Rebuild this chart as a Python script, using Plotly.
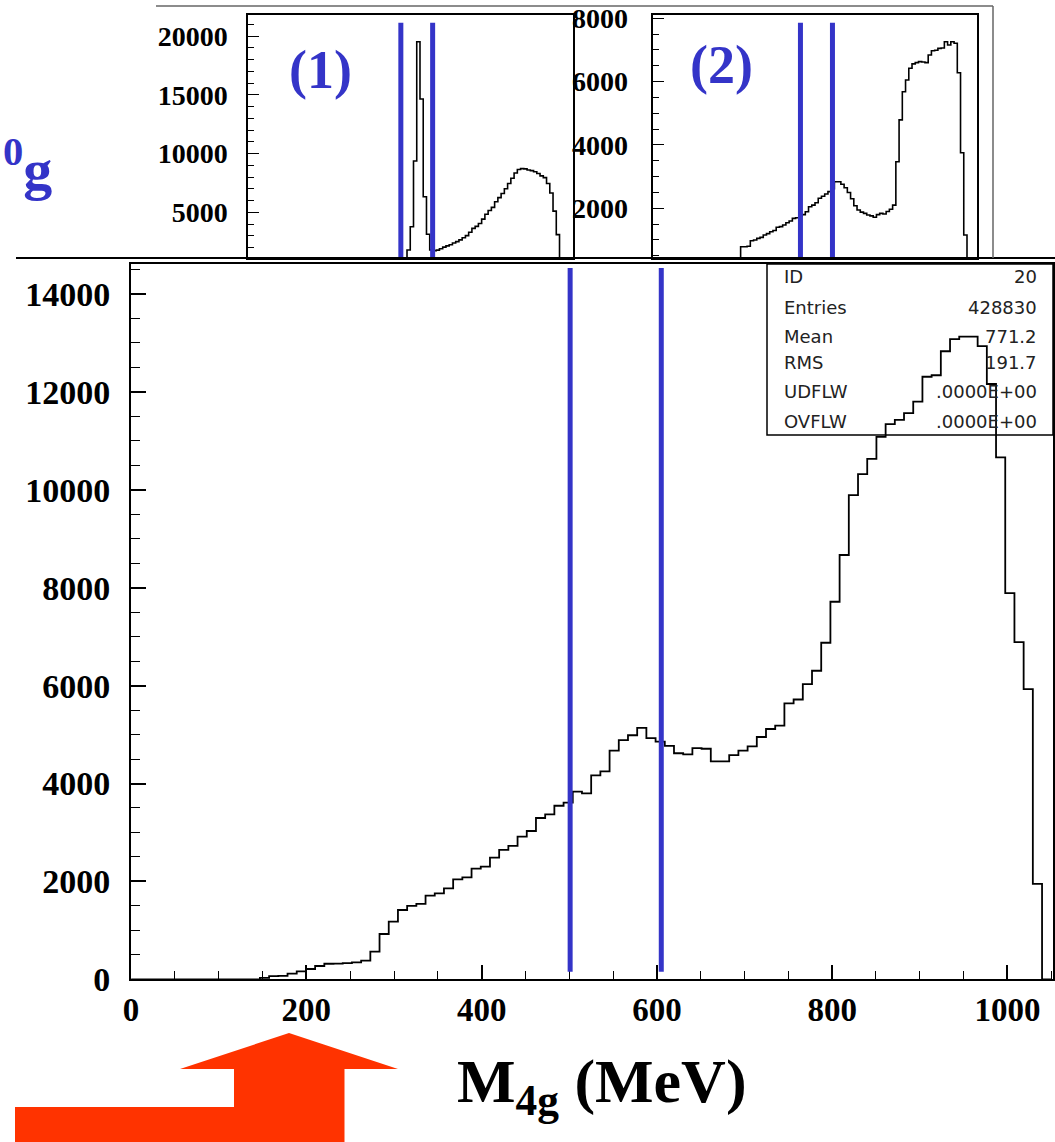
import plotly.graph_objects as go

W, H = 1055, 1142

# ---------------- data ----------------
main_bin_width = 10.5  # MeV per bin, 100 bins
main_counts = [0] * 14 + [
    30, 65, 70, 115, 163, 210, 272, 318, 322, 330,
    347, 381, 565, 925, 1177, 1416, 1498, 1539, 1709, 1756,
    1858, 2042, 2084, 2260, 2301, 2485, 2642, 2724, 2914, 3030,
    3295, 3370, 3545, 3608, 3833, 3799, 4167, 4249, 4670, 4885,
    4986, 5136, 4925, 4857, 4768, 4618, 4593, 4724, 4710, 4450,
    4450, 4578, 4670, 4760, 4950, 5113, 5184, 5638, 5716, 6029,
    6303, 6875, 7713, 8668, 9890, 10320, 10633, 11080, 11340, 11430,
    11565, 11800, 12310, 12340, 12830, 13080, 13130, 13130, 12937, 12161,
    10663, 7890, 6890, 5930, 1950, 0,
]

inset1_counts = [0] * 49 + [
    1789, 3774, 9370, 19532, 14650, 6330, 3126, 1800, 1730, 1780,
    1900, 2030, 2140, 2240, 2380, 2500, 2650, 2830, 3010, 3300,
    3630, 3800, 4050, 4420, 4830, 5150, 5420, 5900, 6250, 6600,
    7000, 7450, 7900, 8350, 8650, 8720, 8700, 8600, 8550, 8450,
    8300, 8100, 7950, 7450, 6650, 5100, 3100,
] + [0] * 4

inset2_counts = [0] * 27 + [
    786, 786, 800, 977, 1000, 1050, 1080, 1155, 1200, 1260,
    1300, 1400, 1420, 1470, 1545, 1600, 1680, 1700, 1755, 1800,
    1890, 2050, 2100, 2175, 2315, 2380, 2450, 2525, 2620, 2840,
    2840, 2760, 2650, 2500, 2300, 2080, 1945, 1880, 1840, 1790,
    1760, 1715, 1800, 1840, 1820, 1900, 1970, 2100, 3470, 4790,
    5680, 6050, 6420, 6560, 6600, 6630, 6620, 6600, 6840, 6975,
    6990, 7050, 7060, 7260, 7155, 7260, 7210, 6280, 3755, 1155,
] + [0] * 3

main_cut_lines = [501, 605]        # MeV
inset1_cut_lines = [47.1, 56.9]    # inset bin units
inset2_cut_lines = [45.5, 55.4]

main_xticks = [0, 200, 400, 600, 800, 1000]
main_yticks = [0, 2000, 4000, 6000, 8000, 10000, 12000, 14000]
inset1_yticks = [5000, 10000, 15000, 20000]
inset2_yticks = [2000, 4000, 6000, 8000]

stats_labels = ["ID", "Entries", "Mean", "RMS", "UDFLW", "OVFLW"]
stats_values = ["20", "428830", "771.2", "191.7", ".0000E+00", ".0000E+00"]

# ---------------- helpers ----------------
def fx(px):
    return px / W

def fy(py):
    return 1 - py / H

def step_xy(counts, width):
    xs = [i * width for i in range(len(counts) + 1)]
    ys = list(counts) + [counts[-1]]
    return xs, ys

BLUE = "#3434C8"
SERIF = "Liberation Serif, Times New Roman, serif"

fig = go.Figure()

mx, my = step_xy(main_counts, main_bin_width)
fig.add_trace(go.Scatter(x=mx, y=my, mode="lines", line=dict(color="black", width=1.8, shape="hv"),
                         xaxis="x", yaxis="y", showlegend=False, hoverinfo="skip"))
ax1, ay1 = step_xy(inset1_counts, 1)
fig.add_trace(go.Scatter(x=ax1, y=ay1, mode="lines", line=dict(color="black", width=1.6, shape="hv"),
                         xaxis="x2", yaxis="y2", showlegend=False, hoverinfo="skip"))
ax2, ay2 = step_xy(inset2_counts, 1)
fig.add_trace(go.Scatter(x=ax2, y=ay2, mode="lines", line=dict(color="black", width=1.6, shape="hv"),
                         xaxis="x3", yaxis="y3", showlegend=False, hoverinfo="skip"))

tickfont_x = dict(family=SERIF, size=33, color="black", weight="bold")
tickfont_y = dict(family=SERIF, size=34, color="black", weight="bold")
tickfont_inset = dict(family=SERIF, size=28, color="black", weight="bold")

main_ymax = (979.3 - 264) / 0.04895

common = dict(showgrid=False, zeroline=False, showline=True, linecolor="black", mirror=True, automargin=False)

fig.update_layout(
    width=W, height=H, autosize=False,
    margin=dict(l=0, r=0, t=0, b=0, pad=0, autoexpand=False),
    paper_bgcolor="white", plot_bgcolor="white",
    showlegend=False,
    xaxis=dict(domain=[fx(131.1), fx(1053)], range=[0, 1052], anchor="y", linewidth=2,
               ticks="inside", ticklen=14, tickwidth=1.6, tickcolor="black",
               tickvals=main_xticks, ticktext=[str(v) for v in main_xticks],
               minor=dict(dtick=50, tick0=0, ticks="inside", ticklen=8, tickwidth=1.4, tickcolor="black"),
               tickfont=tickfont_x, ticklabelstandoff=0, **common),
    yaxis=dict(domain=[fy(979.3), fy(264)], range=[0, main_ymax], anchor="x", linewidth=2,
               ticks="inside", ticklen=15, tickwidth=1.6, tickcolor="black",
               tickvals=main_yticks, ticktext=[str(v) for v in main_yticks],
               minor=dict(dtick=500, tick0=0, ticks="inside", ticklen=9, tickwidth=1.4, tickcolor="black"),
               tickfont=tickfont_y, ticklabelstandoff=12, **common),
    xaxis2=dict(domain=[fx(248), fx(572.5)], range=[0, 100], anchor="y2", linewidth=1.5,
                ticks="", showticklabels=False, **common),
    yaxis2=dict(domain=[fy(258), fy(15)], range=[1107, 21806], anchor="x2", linewidth=1.5,
                ticks="inside", ticklen=11, tickwidth=1.4, tickcolor="black",
                tickvals=inset1_yticks, ticktext=[str(v) for v in inset1_yticks],
                minor=dict(dtick=1000, tick0=0, ticks="inside", ticklen=6, tickwidth=1.2, tickcolor="black"),
                tickfont=tickfont_inset, ticklabelstandoff=13, **common),
    xaxis3=dict(domain=[fx(653.3), fx(976.7)], range=[0, 100], anchor="y3", linewidth=1.5,
                ticks="", showticklabels=False, **common),
    yaxis3=dict(domain=[fy(258), fy(15)], range=[430, 8103], anchor="x3", linewidth=1.5,
                ticks="inside", ticklen=11, tickwidth=1.4, tickcolor="black",
                tickvals=inset2_yticks, ticktext=[str(v) for v in inset2_yticks],
                minor=dict(dtick=500, tick0=0, ticks="inside", ticklen=6, tickwidth=1.2, tickcolor="black"),
                tickfont=tickfont_inset, ticklabelstandoff=18, **common),
)

shapes = []
for v in main_cut_lines:
    shapes.append(dict(type="line", xref="x", yref="y", x0=v, x1=v, y0=155, y1=14530,
                       line=dict(color=BLUE, width=5)))
for v in inset1_cut_lines:
    shapes.append(dict(type="line", xref="x2", yref="y2", x0=v, x1=v, y0=1107, y1=21150,
                       line=dict(color=BLUE, width=5)))
for v in inset2_cut_lines:
    shapes.append(dict(type="line", xref="x3", yref="y3", x0=v, x1=v, y0=430, y1=7860,
                       line=dict(color=BLUE, width=5)))

shapes.append(dict(type="line", xref="paper", yref="paper", x0=fx(16), x1=fx(1055), y0=fy(258), y1=fy(258),
                   line=dict(color="black", width=2)))
shapes.append(dict(type="line", xref="paper", yref="paper", x0=fx(156), x1=fx(993), y0=fy(6), y1=fy(6),
                   line=dict(color="#666666", width=1.5)))
shapes.append(dict(type="line", xref="paper", yref="paper", x0=fx(993), x1=fx(993), y0=fy(6), y1=fy(258),
                   line=dict(color="#666666", width=1.5)))

shapes.append(dict(type="rect", xref="paper", yref="paper", x0=fx(767), x1=fx(1053), y0=fy(435), y1=fy(264),
                   line=dict(color="black", width=1.5), fillcolor="rgba(0,0,0,0)"))

arrow_pts = [(15, 1142), (15, 1107), (234, 1107), (234, 1069), (180, 1069), (289, 1033),
             (398, 1069), (344.5, 1069), (344.5, 1142)]
path = "M " + " L ".join(f"{fx(a):.5f},{fy(b):.5f}" for a, b in arrow_pts) + " Z"
shapes.append(dict(type="path", xref="paper", yref="paper", path=path,
                   fillcolor="#FF3300", line=dict(color="#FF3300", width=0)))

fig.update_layout(shapes=shapes)

ann = []
stats_rows = [276, 307, 336, 363, 391, 421]
for lab, val, py in zip(stats_labels, stats_values, stats_rows):
    ann.append(dict(xref="paper", yref="paper", x=fx(782), y=fy(py), text=lab, showarrow=False,
                    xanchor="left", yanchor="middle", font=dict(family="DejaVu Sans", size=18, color="#222222")))
    ann.append(dict(xref="paper", yref="paper", x=fx(1039), y=fy(py), text=val, showarrow=False,
                    xanchor="right", yanchor="middle", font=dict(family="DejaVu Sans", size=18, color="#222222")))

ann.append(dict(xref="paper", yref="paper", x=fx(320), y=fy(70), text="(1)", showarrow=False,
                xanchor="center", yanchor="middle", font=dict(family=SERIF, size=54, color=BLUE, weight="bold")))
ann.append(dict(xref="paper", yref="paper", x=fx(721), y=fy(65), text="(2)", showarrow=False,
                xanchor="center", yanchor="middle", font=dict(family=SERIF, size=54, color=BLUE, weight="bold")))
ann.append(dict(xref="paper", yref="paper", x=fx(1), y=fy(165), text="<sup>0</sup>g", showarrow=False,
                xanchor="left", yanchor="middle", font=dict(family=SERIF, size=58, color=BLUE, weight="bold")))
ann.append(dict(xref="paper", yref="paper", x=fx(602), y=fy(1085), text="M<sub>4g</sub> (MeV)", showarrow=False,
                xanchor="center", yanchor="middle", font=dict(family=SERIF, size=62, color="black", weight="bold")))
fig.update_layout(annotations=ann)

fig.write_html("out.html", config={"displayModeBar": False},
               post_script="document.body.style.margin='0px';document.body.style.overflow='hidden';document.documentElement.style.overflow='hidden';")
